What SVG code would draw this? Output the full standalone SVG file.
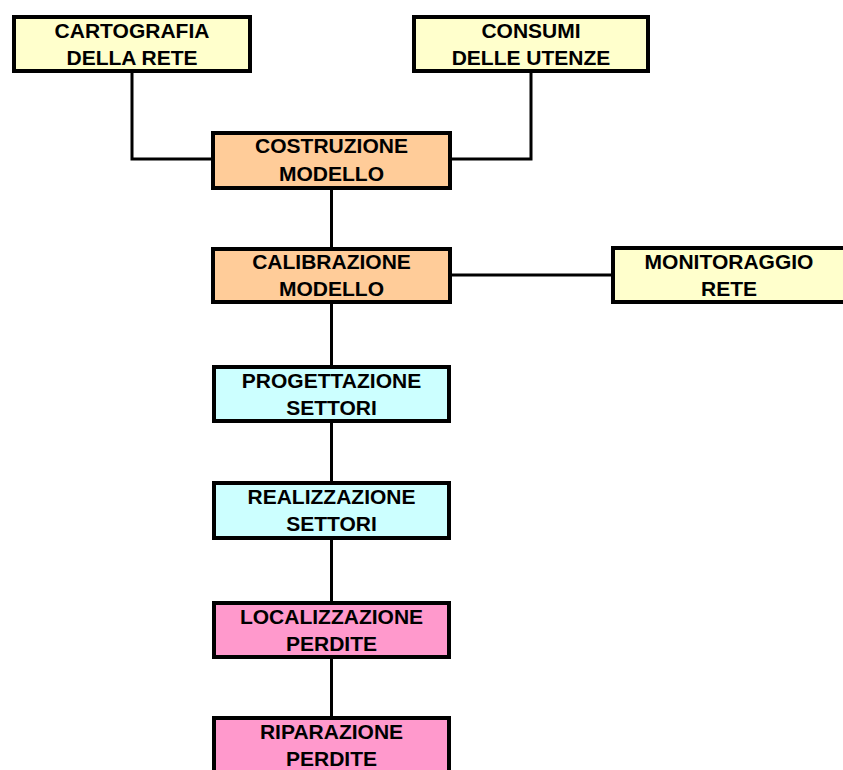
<svg xmlns="http://www.w3.org/2000/svg" width="843" height="770" viewBox="0 0 843 770">
  <style>
    .box { stroke: #000; stroke-width: 4; }
    .input { fill: #FFFFCC; }
    .model { fill: #FFCC99; }
    .sector { fill: #CCFFFF; }
    .leak { fill: #FF99CC; }
    .lbl { font-family: "Liberation Sans", Arial, sans-serif; font-weight: bold; font-size: 21px; fill: #000; text-anchor: middle; }
    .wire { fill: none; stroke: #000; stroke-width: 3; }
  </style>
  <rect width="843" height="770" fill="#fff"/>

  <g id="connectors">
    <path class="wire" d="M132,73 V159 H211"/>
    <path class="wire" d="M531,73 V159 H452"/>
    <path class="wire" d="M331.5,190 V247"/>
    <path class="wire" d="M452,275 H611"/>
    <path class="wire" d="M331.5,304 V365"/>
    <path class="wire" d="M331.5,423 V481"/>
    <path class="wire" d="M331.5,540 V601"/>
    <path class="wire" d="M331.5,659 V716"/>
  </g>

  <g id="cartografia">
    <rect class="box input" x="14" y="17" width="236" height="54"/>
    <text class="lbl" x="132" y="38">CARTOGRAFIA</text>
    <text class="lbl" x="132" y="65">DELLA RETE</text>
  </g>

  <g id="consumi">
    <rect class="box input" x="414" y="17" width="234" height="54"/>
    <text class="lbl" x="531" y="38">CONSUMI</text>
    <text class="lbl" x="531" y="65">DELLE UTENZE</text>
  </g>

  <g id="costruzione">
    <rect class="box model" x="213" y="133" width="237" height="55"/>
    <text class="lbl" x="331.5" y="153">COSTRUZIONE</text>
    <text class="lbl" x="331.5" y="181">MODELLO</text>
  </g>

  <g id="calibrazione">
    <rect class="box model" x="213" y="249" width="237" height="53"/>
    <text class="lbl" x="331.5" y="269">CALIBRAZIONE</text>
    <text class="lbl" x="331.5" y="296">MODELLO</text>
  </g>

  <g id="monitoraggio">
    <rect class="box input" x="613" y="248" width="232" height="54"/>
    <text class="lbl" x="729" y="269">MONITORAGGIO</text>
    <text class="lbl" x="729" y="296">RETE</text>
  </g>

  <g id="progettazione">
    <rect class="box sector" x="214" y="367" width="235" height="54"/>
    <text class="lbl" x="331.5" y="388">PROGETTAZIONE</text>
    <text class="lbl" x="331.5" y="415">SETTORI</text>
  </g>

  <g id="realizzazione">
    <rect class="box sector" x="214" y="483" width="235" height="55"/>
    <text class="lbl" x="331.5" y="504">REALIZZAZIONE</text>
    <text class="lbl" x="331.5" y="531">SETTORI</text>
  </g>

  <g id="localizzazione">
    <rect class="box leak" x="214" y="603" width="235" height="54"/>
    <text class="lbl" x="331.5" y="624">LOCALIZZAZIONE</text>
    <text class="lbl" x="331.5" y="651">PERDITE</text>
  </g>

  <g id="riparazione">
    <rect class="box leak" x="214" y="718" width="235" height="54"/>
    <text class="lbl" x="331.5" y="739">RIPARAZIONE</text>
    <text class="lbl" x="331.5" y="766">PERDITE</text>
  </g>
</svg>
